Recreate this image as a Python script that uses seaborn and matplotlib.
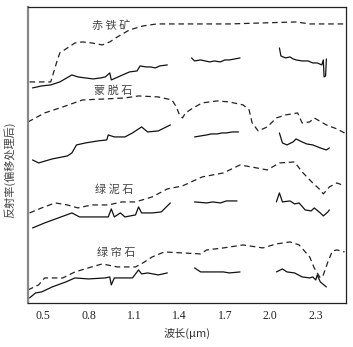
import matplotlib
matplotlib.use("Agg")
import matplotlib.pyplot as plt
import seaborn as sns

# ------------------------------------------------------
# Data: wavelength (um) and offset reflectance (arbitrary units)
# dashed = library spectrum, solid = measured spectrum (3 segments)
# ------------------------------------------------------
minerals = ["赤铁矿", "蒙脱石", "绿泥石", "绿帘石"]

# hematite
hem_lib_wl = [0.41, 0.55, 0.57, 0.59, 0.61, 0.66, 0.71, 0.76, 0.82, 0.89, 0.94, 0.99,
              1.07, 1.16, 1.25, 1.38, 1.73, 2.17, 2.26, 2.50]
hem_lib_r = [2.21, 2.21, 2.31, 2.41, 2.50, 2.55, 2.60, 2.61, 2.60, 2.58, 2.61, 2.66,
             2.73, 2.77, 2.79, 2.79, 2.79, 2.81, 2.79, 2.79]
hem_wl_1 = [0.43, 0.49, 0.55, 0.61, 0.69, 0.73, 0.78, 0.83, 0.88, 0.91, 0.94, 0.95,
            0.98, 1.01, 1.04, 1.07, 1.12, 1.14, 1.18, 1.21, 1.24, 1.27, 1.32]
hem_r_1 = [2.15, 2.17, 2.18, 2.21, 2.28, 2.26, 2.25, 2.24, 2.25, 2.26, 2.30, 2.23,
           2.25, 2.27, 2.29, 2.31, 2.32, 2.37, 2.36, 2.36, 2.35, 2.37, 2.38]
hem_wl_2 = [1.48, 1.50, 1.54, 1.57, 1.60, 1.63, 1.67, 1.70, 1.73, 1.80]
hem_r_2 = [2.45, 2.42, 2.43, 2.42, 2.41, 2.42, 2.41, 2.43, 2.43, 2.45]
hem_wl_3 = [2.06, 2.07, 2.10, 2.13, 2.15, 2.17, 2.21, 2.25, 2.28, 2.31, 2.34, 2.35,
            2.355, 2.365, 2.37]
hem_r_3 = [2.55, 2.47, 2.45, 2.46, 2.44, 2.43, 2.42, 2.42, 2.40, 2.40, 2.38, 2.43,
           2.26, 2.27, 2.44]

# montmorillonite
mon_lib_wl = [0.40, 0.51, 0.63, 0.76, 0.91, 1.04, 1.13, 1.26, 1.35, 1.38, 1.40, 1.42,
              1.44, 1.49, 1.55, 1.65, 1.73, 1.82, 1.86, 1.88, 1.92, 1.98, 2.04, 2.10,
              2.18, 2.21, 2.26, 2.29, 2.37, 2.44, 2.49]
mon_lib_r = [1.81, 1.90, 1.96, 2.03, 2.04, 2.05, 2.07, 2.06, 2.03, 1.96, 1.88, 1.85,
             1.90, 1.95, 2.00, 2.02, 2.01, 1.98, 1.93, 1.80, 1.72, 1.76, 1.85, 1.88,
             1.90, 1.80, 1.81, 1.85, 1.78, 1.74, 1.70]
mon_wl_1 = [0.43, 0.47, 0.56, 0.66, 0.69, 0.72, 0.78, 0.86, 0.92, 0.93, 0.97, 1.04,
            1.09, 1.15, 1.19, 1.26, 1.34]
mon_r_1 = [1.43, 1.40, 1.44, 1.47, 1.50, 1.58, 1.60, 1.62, 1.63, 1.68, 1.66, 1.66,
           1.70, 1.76, 1.71, 1.72, 1.78]
mon_wl_2 = [1.50, 1.54, 1.58, 1.61, 1.65, 1.68, 1.71, 1.75, 1.79]
mon_r_2 = [1.66, 1.67, 1.68, 1.69, 1.69, 1.70, 1.70, 1.71, 1.71]
mon_wl_3 = [2.06, 2.08, 2.11, 2.15, 2.17, 2.21, 2.24, 2.28, 2.33, 2.37, 2.39]
mon_r_3 = [1.70, 1.60, 1.58, 1.61, 1.64, 1.61, 1.59, 1.58, 1.55, 1.53, 1.55]

# chlorite
chl_lib_wl = [0.41, 0.49, 0.58, 0.66, 0.73, 0.82, 0.93, 1.02, 1.11, 1.22, 1.32, 1.42,
              1.55, 1.69, 1.80, 1.91, 1.98, 2.06, 2.16, 2.21, 2.28, 2.33, 2.35, 2.39,
              2.44, 2.49]
chl_lib_r = [0.90, 0.95, 1.00, 0.98, 0.95, 0.98, 0.98, 1.01, 1.01, 1.06, 1.14, 1.17,
             1.26, 1.30, 1.38, 1.35, 1.33, 1.40, 1.41, 1.31, 1.20, 1.13, 1.09, 1.16,
             1.20, 1.17]
chl_wl_1 = [0.43, 0.51, 0.60, 0.69, 0.74, 0.84, 0.93, 0.95, 0.97, 1.01, 1.04, 1.11,
            1.13, 1.15, 1.22, 1.28, 1.34]
chl_r_1 = [0.75, 0.80, 0.85, 0.90, 0.86, 0.86, 0.86, 0.94, 0.86, 0.90, 0.86, 0.88,
           0.96, 0.90, 0.90, 0.91, 1.00]
chl_wl_2 = [1.50, 1.58, 1.62, 1.67, 1.71, 1.78]
chl_r_2 = [1.01, 1.00, 1.01, 1.00, 1.02, 1.02]
chl_wl_3 = [2.04, 2.06, 2.08, 2.13, 2.16, 2.19, 2.23, 2.27, 2.29, 2.33, 2.35, 2.38, 2.39]
chl_r_3 = [1.01, 1.10, 1.01, 1.02, 0.99, 1.00, 0.93, 0.92, 0.95, 0.90, 0.87, 0.91, 0.93]

# epidote
epi_lib_wl = [0.40, 0.47, 0.51, 0.63, 0.71, 0.82, 0.89, 0.99, 1.11, 1.17, 1.22, 1.30,
              1.42, 1.54, 1.58, 1.69, 1.82, 1.95, 2.04, 2.13, 2.19, 2.26, 2.29, 2.33,
              2.35, 2.38, 2.41, 2.44, 2.49]
epi_lib_r = [0.13, 0.18, 0.25, 0.25, 0.31, 0.36, 0.39, 0.36, 0.36, 0.41, 0.46, 0.51,
             0.50, 0.49, 0.53, 0.55, 0.58, 0.55, 0.59, 0.61, 0.58, 0.46, 0.35, 0.25,
             0.28, 0.41, 0.52, 0.53, 0.51]
epi_wl_1 = [0.41, 0.45, 0.49, 0.56, 0.65, 0.71, 0.80, 0.91, 0.94, 0.95, 0.97, 1.09,
            1.13, 1.15, 1.19, 1.26, 1.32]
epi_r_1 = [0.05, 0.10, 0.11, 0.16, 0.21, 0.25, 0.24, 0.25, 0.26, 0.18, 0.25, 0.25,
           0.33, 0.29, 0.30, 0.28, 0.30]
epi_wl_2 = [1.50, 1.54, 1.62, 1.69, 1.73, 1.80]
epi_r_2 = [0.35, 0.31, 0.31, 0.31, 0.30, 0.31]
epi_wl_3 = [2.04, 2.08, 2.11, 2.16, 2.21, 2.26, 2.28, 2.30, 2.31, 2.33, 2.37]
epi_r_3 = [0.31, 0.34, 0.31, 0.30, 0.26, 0.25, 0.26, 0.23, 0.28, 0.21, 0.16]

x_ticks = [0.5, 0.8, 1.1, 1.4, 1.7, 2.0, 2.3]

# ------------------------------------------------------
# Plot
# ------------------------------------------------------
sns.set_style("white")
plt.rcParams['font.family'] = ['Noto Sans CJK SC', 'DejaVu Sans']

fig = plt.figure(figsize=(3.53, 3.47), dpi=100)
ax = fig.add_axes([0.0793, 0.127, 0.901, 0.853])

library = [(hem_lib_wl, hem_lib_r), (mon_lib_wl, mon_lib_r),
           (chl_lib_wl, chl_lib_r), (epi_lib_wl, epi_lib_r)]
measured = [(hem_wl_1, hem_r_1), (hem_wl_2, hem_r_2), (hem_wl_3, hem_r_3),
            (mon_wl_1, mon_r_1), (mon_wl_2, mon_r_2), (mon_wl_3, mon_r_3),
            (chl_wl_1, chl_r_1), (chl_wl_2, chl_r_2), (chl_wl_3, chl_r_3),
            (epi_wl_1, epi_r_1), (epi_wl_2, epi_r_2), (epi_wl_3, epi_r_3)]

for wl, r in library:
    sns.lineplot(x=wl, y=r, ax=ax, sort=False, estimator=None, color="#222222",
                 lw=0.9, linestyle=(0, (4.5, 3)))
for wl, r in measured:
    sns.lineplot(x=wl, y=r, ax=ax, sort=False, estimator=None, color="#111111", lw=0.9)

label_pos = [(0.95, 2.77), (0.96, 2.12), (0.97, 1.13), (0.98, 0.50)]
for name, (lx, ly) in zip(minerals, label_pos):
    ax.text(lx, ly, " ".join(name), ha="center", va="center", fontsize=8,
            color="#444444")

ax.set_xlim(0.4, 2.5)
ax.set_ylim(0, 2.96)
ax.set_xticks(x_ticks)
ax.set_xticklabels([f"{t:.1f}" for t in x_ticks], family="Liberation Serif", fontsize=8.5)
ax.set_yticks([])
ax.tick_params(axis="x", direction="in", length=3, width=0.8, pad=5, colors="#222222")
ax.set_xlabel("波长(μm)", fontsize=8, color="#333333", labelpad=4)
ax.set_ylabel("反射率(偏移处理后)", fontsize=8, color="#444444")
ax.yaxis.set_label_coords(-0.04, 0.45)

for side in ["top", "right", "bottom"]:
    ax.spines[side].set_color("#222222")
    ax.spines[side].set_linewidth(0.9)
ax.spines["left"].set_color("#888888")
ax.spines["left"].set_linewidth(1.6)

fig.savefig("out.png", dpi=100)
